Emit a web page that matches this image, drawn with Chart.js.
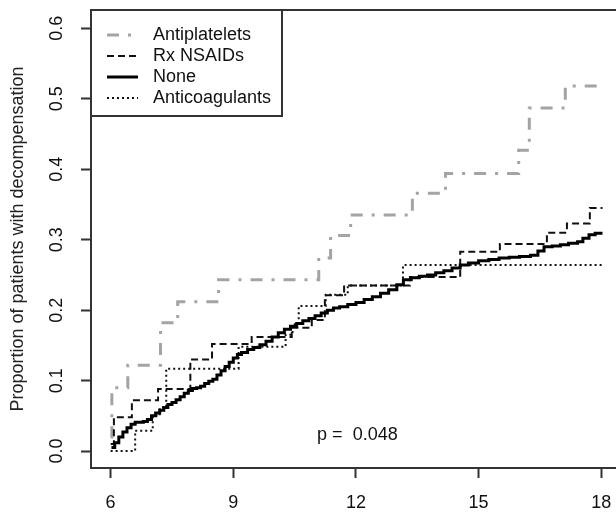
<!DOCTYPE html>
<html>
<head>
<meta charset="utf-8">
<script src="https://cdn.jsdelivr.net/npm/chart.js@4.4.1/dist/chart.umd.min.js"></script>
<style>
  html, body { margin: 0; padding: 0; background: #fff; overflow: hidden; }
  canvas { display: block; }
</style>
</head>
<body>
<canvas id="km" width="616" height="515"></canvas>
<script>
/* ===== Cumulative decompensation by medication group ===== */
(function () {
    "use strict";

    var FONT = "Arial, 'Liberation Sans', sans-serif";

    // axis ticks
    var xTicks = [6, 9, 12, 15, 18];
    var yTicks = [0, 0.1, 0.2, 0.3, 0.4, 0.5, 0.6];

    var yTitle = "Proportion of patients with decompensation";
    var pLabel = "p =  0.048";

    var seriesNames = ["Antiplatelets", "Rx NSAIDs", "None", "Anticoagulants"];

    // step curves: month of each step, proportion reached at that step
    var antiplateletsX = [6.0, 6.03, 6.42, 7.22, 7.64, 8.64, 11.09, 11.38, 11.87, 13.38, 14.19, 15.98, 16.24, 17.12, 18.03];
    var antiplateletsY = [0.02, 0.09, 0.122, 0.182, 0.212, 0.243, 0.274, 0.306, 0.335, 0.366, 0.394, 0.427, 0.487, 0.518, 0.518];

    var nsaidsX = [6.0, 6.08, 6.52, 7.16, 7.95, 8.48, 9.45, 10.43, 10.92, 11.24, 11.71, 13.32, 14.55, 15.52, 16.67, 17.16, 17.72, 18.03];
    var nsaidsY = [0.01, 0.048, 0.072, 0.088, 0.13, 0.152, 0.162, 0.175, 0.186, 0.221, 0.235, 0.247, 0.283, 0.294, 0.31, 0.323, 0.345, 0.345];

    var noneX = [6.02, 6.1, 6.2, 6.3, 6.4, 6.5, 6.6, 6.7, 6.8, 6.9, 7.0, 7.1, 7.2, 7.3, 7.4, 7.5, 7.6, 7.7, 7.8, 7.9,
                 8.0, 8.1, 8.2, 8.3, 8.4, 8.5, 8.6, 8.7, 8.8, 8.9, 9.0, 9.1, 9.2, 9.35, 9.5, 9.65, 9.8, 9.95,
                 10.1, 10.25, 10.4, 10.55, 10.7, 10.85, 11.0, 11.15, 11.3, 11.45, 11.6, 11.8, 12.0, 12.2, 12.4,
                 12.6, 12.8, 13.0, 13.16, 13.35, 13.55, 13.75, 13.95, 14.15, 14.35, 14.55, 14.75, 15.0, 15.25,
                 15.5, 15.75, 16.0, 16.27, 16.45, 16.6, 16.8, 17.0, 17.2, 17.42, 17.55, 17.7, 17.85, 18.03];
    var noneY = [0.005, 0.012, 0.02, 0.027, 0.033, 0.038, 0.041, 0.041, 0.042, 0.045, 0.05, 0.054, 0.058, 0.062, 0.066,
                 0.069, 0.073, 0.077, 0.082, 0.086, 0.089, 0.09, 0.092, 0.096, 0.099, 0.102, 0.108, 0.114, 0.12, 0.126,
                 0.132, 0.137, 0.14, 0.144, 0.147, 0.151, 0.156, 0.162, 0.168, 0.173, 0.177, 0.181, 0.185, 0.188,
                 0.192, 0.196, 0.2, 0.203, 0.205, 0.208, 0.211, 0.215, 0.219, 0.224, 0.229, 0.236, 0.243, 0.246,
                 0.248, 0.25, 0.253, 0.256, 0.26, 0.264, 0.267, 0.27, 0.272, 0.274, 0.275, 0.276, 0.278, 0.284,
                 0.29, 0.291, 0.293, 0.295, 0.297, 0.302, 0.307, 0.309, 0.309];

    var anticoagX = [6.0, 6.6, 7.03, 7.2, 7.36, 9.13, 10.28, 10.45, 10.6, 11.26, 11.8, 13.15, 18.03];
    var anticoagY = [0.0, 0.029, 0.05, 0.062, 0.117, 0.148, 0.165, 0.18, 0.206, 0.222, 0.235, 0.264, 0.264];

    function toPoints(xs, ys) {
        return xs.map(function (x, i) { return { x: x, y: ys[i] }; });
    }

    function stepSet(label, xs, ys, color, width, dash, order) {
        return {
            label: label,
            data: toPoints(xs, ys),
            borderColor: color,
            borderWidth: width,
            borderDash: dash,
            borderCapStyle: "butt",
            stepped: true,
            pointRadius: 0,
            fill: false,
            order: order
        };
    }

    var datasets = [
        stepSet(seriesNames[0], antiplateletsX, antiplateletsY, "#a4a4a4", 3, [12, 9, 3, 9], 3),
        stepSet(seriesNames[1], nsaidsX, nsaidsY, "#111", 2, [7, 4], 1),
        stepSet(seriesNames[2], noneX, noneY, "#000", 3, [], 0),
        stepSet(seriesNames[3], anticoagX, anticoagY, "#111", 2, [2, 3], 2)
    ];

    /* --- box top line, legend box and p value --- */
    var extras = {
        id: "extras",
        afterDraw: function (chart) {
            var ctx = chart.ctx;
            var area = chart.chartArea;
            ctx.save();

            // top edge of the plot box
            ctx.strokeStyle = "#333";
            ctx.lineWidth = 2;
            ctx.beginPath();
            ctx.moveTo(area.left - 1, area.top);
            ctx.lineTo(chart.width, area.top);
            ctx.stroke();

            // legend
            var lx = area.left, ly = area.top, lw = 191, lh = 106;
            ctx.fillStyle = "#fff";
            ctx.fillRect(lx, ly, lw, lh);
            ctx.strokeRect(lx, ly, lw, lh);

            ctx.font = "18px " + FONT;
            ctx.textBaseline = "middle";
            ctx.textAlign = "left";
            for (var i = 0; i < datasets.length; i++) {
                var ds = datasets[i];
                var rowY = ly + 25 + i * 21;
                ctx.strokeStyle = ds.borderColor;
                ctx.lineWidth = ds.borderWidth;
                ctx.setLineDash(ds.borderDash);
                ctx.beginPath();
                ctx.moveTo(lx + 16, rowY);
                ctx.lineTo(lx + 47, rowY);
                ctx.stroke();
                ctx.setLineDash([]);
                ctx.fillStyle = "#111";
                ctx.fillText(ds.label, lx + 62, rowY);
            }

            // log-rank p value
            ctx.fillText(pLabel, chart.scales.x.getPixelForValue(11.05), chart.scales.y.getPixelForValue(0.023));
            ctx.restore();
        }
    };

    new Chart(document.getElementById("km"), {
        type: "line",
        data: { datasets: datasets },
        options: {
            responsive: false,
            animation: false,
            devicePixelRatio: 1,
            layout: { padding: { top: 10, left: 0, right: 0, bottom: 0 } },
            plugins: {
                legend: { display: false },
                tooltip: { enabled: false }
            },
            scales: {
                x: {
                    type: "linear",
                    min: 5.52,
                    max: 18.36,
                    afterBuildTicks: function (s) {
                        s.ticks = xTicks.map(function (v) { return { value: v }; });
                    },
                    afterFit: function (s) {
                        s.height = 47;
                        s.paddingLeft = 0;
                        s.paddingRight = 0;
                    },
                    grid: { drawOnChartArea: false, drawTicks: true, tickLength: 10, tickWidth: 2, tickColor: "#333" },
                    border: { display: true, color: "#333", width: 2 },
                    ticks: {
                        font: { family: FONT, size: 18 },
                        color: "#111",
                        padding: 14,
                        maxRotation: 0,
                        autoSkip: false,
                        callback: function (v) { return String(v); }
                    }
                },
                y: {
                    type: "linear",
                    min: -0.024,
                    max: 0.626,
                    afterBuildTicks: function (s) {
                        s.ticks = yTicks.map(function (v) { return { value: v }; });
                    },
                    afterFit: function (s) {
                        s.width = 91;
                        s.paddingTop = 0;
                        s.paddingBottom = 0;
                    },
                    grid: { drawOnChartArea: false, drawTicks: true, tickLength: 10, tickWidth: 2, tickColor: "#333" },
                    border: { display: true, color: "#333", width: 2 },
                    ticks: {
                        font: { family: FONT, size: 18 },
                        color: "#111",
                        padding: 11,
                        minRotation: 90,
                        maxRotation: 90,
                        crossAlign: "center",
                        autoSkip: false,
                        callback: function (v) { return v.toFixed(1); }
                    },
                    title: {
                        display: true,
                        text: yTitle,
                        color: "#222",
                        font: { family: FONT, size: 18 },
                        padding: { top: 7, bottom: 0 }
                    }
                }
            }
        },
        plugins: [extras]
    });
})();
</script>
</body>
</html>
